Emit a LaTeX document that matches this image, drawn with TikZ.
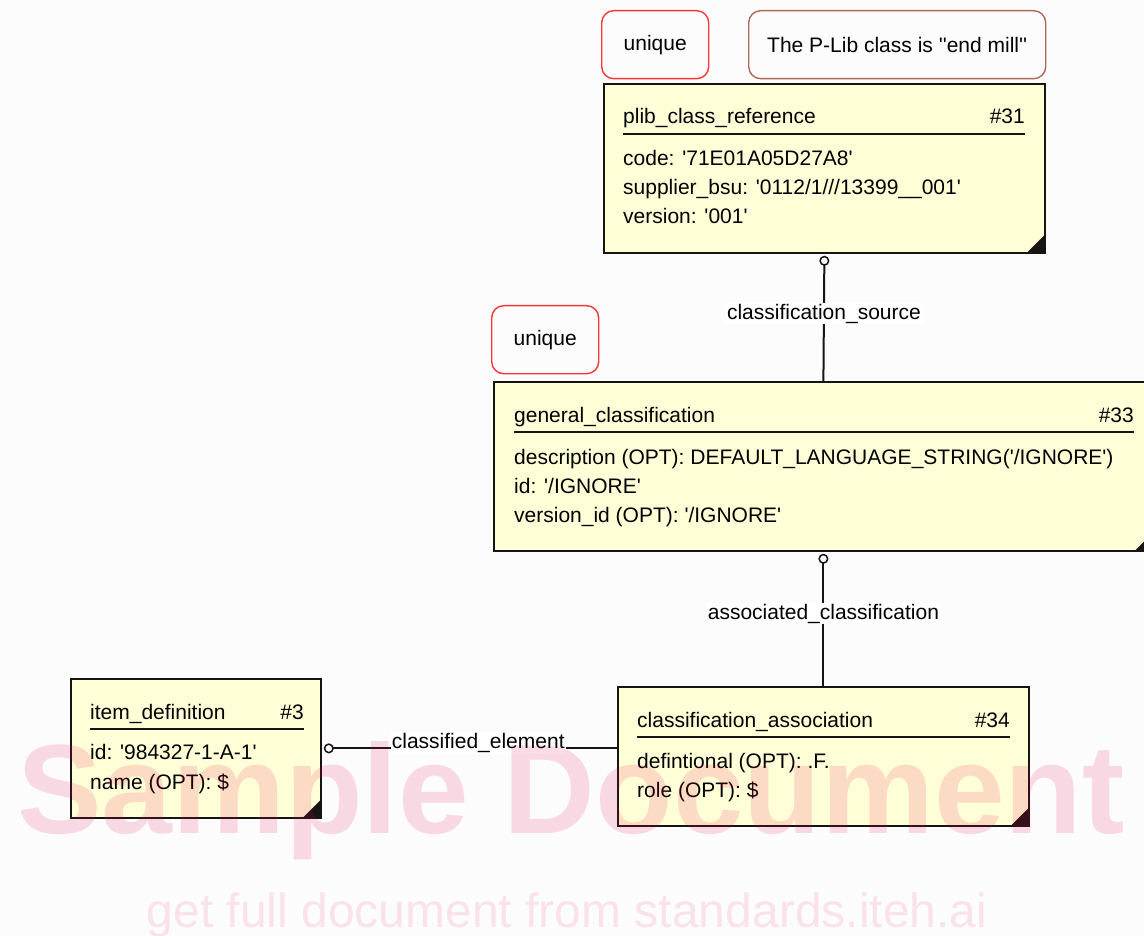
\documentclass[tikz,border=0pt]{standalone}
\usepackage{fontspec}
\newfontfamily\erfont{Liberation Sans}
\usetikzlibrary{arrows.meta,calc}

\definecolor{pagegray}{RGB}{252,252,252}
\definecolor{entityfill}{RGB}{255,255,215}
\definecolor{entityline}{RGB}{25,20,20}
\definecolor{uniquered}{RGB}{250,55,55}
\definecolor{remarkbrown}{RGB}{175,105,90}
\definecolor{stamppink}{RGB}{230,0,80}

\begin{document}
\begin{tikzpicture}[x=1pt, y=-1pt, font=\erfont\fontsize{21}{25}\selectfont,
	entity/.style={draw=entityline, line width=1.8pt, fill=entityfill, anchor=north west, inner sep=0pt},
	remark/.style={draw=#1, line width=1.4pt, rounded corners=12pt, anchor=north west, inner sep=0pt, minimum height=68pt},
	enttitle/.style={anchor=base west, inner sep=0pt},
	entnum/.style={anchor=base east, inner sep=0pt},
	attr/.style={anchor=base west, inner sep=0pt},
	rule/.style={draw=entityline, line width=1.8pt},
	conn/.style={{Circle[open, length=10pt, width=10pt, line width=1.5pt]}-, draw=entityline, line width=2pt, shorten <=2pt},
	role/.style={fill=white, inner sep=1pt},
	stamp/.style={text=stamppink, inner sep=0pt, anchor=base}]
	\useasboundingbox (0,0) rectangle (1144,936);
	\clip (0,0) rectangle (1144,936);
	\fill[pagegray] (0,0) rectangle (1144,936);
	%%%%%%%%%%%%% remarks
	\node[remark=uniquered, minimum width=107pt] (plib-unique) at (601,10) {unique};
	\node[remark=remarkbrown, minimum width=297pt] (plib-remark) at (748,10)
		{The P-Lib class is \textquotesingle\textquotesingle end mill\textquotesingle\textquotesingle};
	\node[remark=uniquered, minimum width=107pt] (gen-unique) at (491,305) {unique};
	%%%%%%%%%%%%% plib_class_reference
	\node[entity, minimum width=441pt, minimum height=169pt] (plib) at (603,83) {};
	\node[enttitle] (plib-name) at (623,124) {plib\_class\_reference};
	\node[entnum] (plib-num) at (1025,124) {\#31};
	\node[attr] (plib-a1) at (623,166) {code: '71E01A05D27A8'};
	\node[attr] (plib-a2) at (623,195) {supplier\_bsu: '0112/1///13399\_\_001'};
	\node[attr] (plib-a3) at (623,224) {version: '001'};
	\draw[rule] ([yshift=-10pt]plib-name.base west) -- ([yshift=-10pt]plib-name.base west -| plib-num.east);
	\fill[entityline] (plib.south east) -- ++(-20,0) -- ++(20,-20) -- cycle;
	%%%%%%%%%%%%% general_classification
	\node[entity, minimum width=659pt, minimum height=169pt] (gen-class) at (493,381) {};
	\node[enttitle] (gen-name) at (514,422) {general\_classification};
	\node[entnum] (gen-num) at (1134,422) {\#33};
	\node[attr] (gen-a1) at (514,464) {description (OPT): DEFAULT\_LANGUAGE\_STRING('/IGNORE')};
	\node[attr] (gen-a2) at (514,493) {id: '/IGNORE'};
	\node[attr] (gen-a3) at (514,522) {version\_id (OPT): '/IGNORE'};
	\draw[rule] ([yshift=-10pt]gen-name.base west) -- ([yshift=-10pt]gen-name.base west -| gen-num.east);
	\fill[entityline] (gen-class.south east) -- ++(-20,0) -- ++(20,-20) -- cycle;
	%%%%%%%%%%%%% item_definition
	\node[entity, minimum width=250pt, minimum height=139pt] (item-def) at (70,678) {};
	\node[enttitle] (item-name) at (90,719) {item\_definition};
	\node[entnum] (item-num) at (304,719) {\#3};
	\node[attr] (item-a1) at (90,759) {id: '984327-1-A-1'};
	\node[attr] (item-a2) at (90,789) {name (OPT): \$};
	\draw[rule] ([yshift=-10pt]item-name.base west) -- ([yshift=-10pt]item-name.base west -| item-num.east);
	\fill[entityline] (item-def.south east) -- ++(-20,0) -- ++(20,-20) -- cycle;
	%%%%%%%%%%%%% classification_association
	\node[entity, minimum width=411pt, minimum height=139pt] (class-assoc) at (617,686) {};
	\node[enttitle] (assoc-name) at (637,727) {classification\_association};
	\node[entnum] (assoc-num) at (1010,727) {\#34};
	\node[attr] (assoc-a1) at (637,768) {defintional (OPT): .F.};
	\node[attr] (assoc-a2) at (637,797) {role (OPT): \$};
	\draw[rule] ([yshift=-10pt]assoc-name.base west) -- ([yshift=-10pt]assoc-name.base west -| assoc-num.east);
	\fill[entityline] (class-assoc.south east) -- ++(-20,0) -- ++(20,-20) -- cycle;
	%%%%%%%%%%%%% relations
	\draw[conn] (plib.south) -- node[role, pos=0.47] {classification\_source} (gen-class.north);
	\draw[conn] (gen-class.south) -- node[role, pos=0.46] {associated\_classification} (class-assoc.north);
	\draw[conn] (item-def.east) -- node[role, anchor=base, pos=0.53] {classified\_element} (item-def.east -| class-assoc.west);
	%%%%%%%%%%%%% stamp
	\node[stamp, text opacity=0.14, font=\erfont\bfseries\fontsize{127}{127}\selectfont] (stamp-big) at (571,833) {Sample Document};
	\node[stamp, text opacity=0.1, font=\erfont\fontsize{48}{48}\selectfont] (stamp-small) at (567,927) {get full document from standards.iteh.ai};
\end{tikzpicture}
\end{document}
